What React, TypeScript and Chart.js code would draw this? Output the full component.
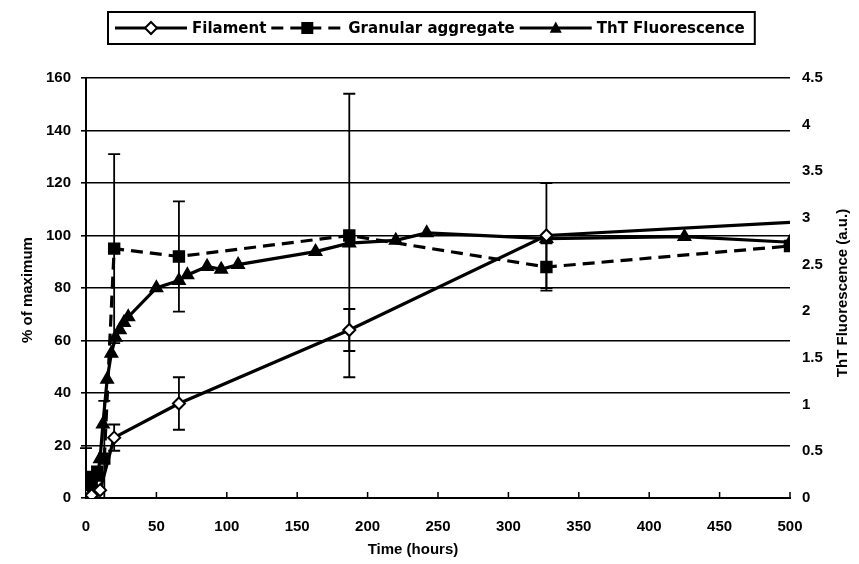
import React, { useEffect, useRef } from "react";
import { Chart, registerables } from "chart.js";

Chart.register(...registerables);

// ---- data ----
const filamentTime = [0, 4, 10, 20, 66, 187, 327, 500];
const filamentValue = [1, 1, 3, 23, 36, 64, 100, 105];
const filamentError = [0, 0, 0, 5, 10, 8, 20, 0];

const granularTime = [0, 4, 8, 13, 20, 66, 187, 327, 500];
const granularValue = [8, 5, 10, 15, 95, 92, 100, 88, 96];
const granularError = [11, 0, 0, 22, 36, 21, 54, 9, 0];

const thtTime = [0, 2, 4, 6, 8, 10, 12, 15, 18, 21, 24, 27, 30, 50, 66, 72, 86, 96, 108, 163, 187, 220, 242, 327, 425, 500];
const thtValue = [0, 0.03, 0.06, 0.11, 0.22, 0.42, 0.79, 1.27, 1.55, 1.72, 1.8, 1.88, 1.94, 2.25, 2.33, 2.39, 2.48, 2.45, 2.5, 2.64, 2.73, 2.76, 2.84, 2.78, 2.8, 2.74];

const seriesLabels = ["Filament", "Granular aggregate", "ThT Fluorescence"];
const leftTicks = [0, 20, 40, 60, 80, 100, 120, 140, 160];
const rightTicks = ["0", "0.5", "1", "1.5", "2", "2.5", "3", "3.5", "4", "4.5"];
const xTicks = [0, 50, 100, 150, 200, 250, 300, 350, 400, 450, 500];
const xTitle = "Time (hours)";
const leftTitle = "% of maximum";
const rightTitle = "ThT Fluorescence (a.u.)";

const FONT = "'Liberation Sans', Arial, sans-serif";
const LEGEND_FONT = "'DejaVu Sans', 'Liberation Sans', sans-serif";

const toPoints = (xs: number[], ys: number[]) => xs.map((x, i) => ({ x, y: ys[i] }));

function drawMarker(ctx: CanvasRenderingContext2D, kind: string, x: number, y: number, r: number) {
  ctx.save();
  ctx.beginPath();
  if (kind === "diamond") {
    ctx.moveTo(x, y - r);
    ctx.lineTo(x + r, y);
    ctx.lineTo(x, y + r);
    ctx.lineTo(x - r, y);
    ctx.closePath();
    ctx.fillStyle = "#fff";
    ctx.fill();
    ctx.lineWidth = 2;
    ctx.strokeStyle = "#000";
    ctx.stroke();
  } else if (kind === "square") {
    ctx.rect(x - r, y - r, 2 * r, 2 * r);
    ctx.fillStyle = "#000";
    ctx.fill();
  } else {
    ctx.moveTo(x, y - r * 1.1);
    ctx.lineTo(x + r, y + r * 0.8);
    ctx.lineTo(x - r, y + r * 0.8);
    ctx.closePath();
    ctx.fillStyle = "#000";
    ctx.fill();
  }
  ctx.restore();
}

const errorBarPlugin = {
  id: "errorBars",
  beforeDatasetsDraw(chart: any) {
    const ctx = chart.ctx;
    ctx.save();
    ctx.strokeStyle = "#000";
    ctx.lineWidth = 1.8;
    chart.data.datasets.forEach((ds: any, i: number) => {
      if (!ds.errors) return;
      const meta = chart.getDatasetMeta(i);
      const ys = chart.scales[ds.yAxisID];
      meta.data.forEach((pt: any, j: number) => {
        const e = ds.errors[j];
        if (!e) return;
        const v = ds.data[j].y;
        const top = ys.getPixelForValue(v + e);
        const bot = ys.getPixelForValue(Math.max(v - e, 0));
        const x = pt.x;
        ctx.beginPath();
        ctx.moveTo(x, top);
        ctx.lineTo(x, bot);
        ctx.moveTo(x - 6, top);
        ctx.lineTo(x + 6, top);
        if (v - e > 0) {
          ctx.moveTo(x - 6, bot);
          ctx.lineTo(x + 6, bot);
        }
        ctx.stroke();
      });
    });
    ctx.restore();
  },
};

const decorPlugin = {
  id: "decor",
  afterDraw(chart: any) {
    const ctx = chart.ctx;
    const area = chart.chartArea;
    const xs = chart.scales.x;
    ctx.save();
    // inward ticks on x axis
    ctx.strokeStyle = "#000";
    ctx.lineWidth = 1.5;
    xTicks.forEach((t) => {
      const px = xs.getPixelForValue(t);
      ctx.beginPath();
      ctx.moveTo(px, area.bottom);
      ctx.lineTo(px, area.bottom - 6);
      ctx.stroke();
    });

    // titles
    ctx.fillStyle = "#000";
    ctx.font = `bold 15px ${FONT}`;
    ctx.textAlign = "center";
    ctx.textBaseline = "middle";
    ctx.fillText(xTitle, 413, 550);
    ctx.save();
    ctx.translate(28, 290);
    ctx.rotate(-Math.PI / 2);
    ctx.fillText(leftTitle, 0, 0);
    ctx.restore();
    ctx.save();
    ctx.translate(843, 293);
    ctx.rotate(-Math.PI / 2);
    ctx.fillText(rightTitle, 0, 0);
    ctx.restore();

    // legend
    const kinds = ["diamond", "square", "triangle"];
    const dashes = [[], [12, 7], []];
    ctx.font = `bold 15px ${LEGEND_FONT}`;
    const lineLen = 72;
    const gap = 5;
    const padL = 7;
    const padR = 10;
    let total = padL + padR;
    const widths = seriesLabels.map((s) => ctx.measureText(s).width);
    widths.forEach((w, i) => {
      total += lineLen + gap + w + (i < widths.length - 1 ? gap : 0);
    });
    const cx = 431;
    const boxL = Math.round(cx - total / 2);
    const boxT = 12;
    const boxH = 32;
    ctx.lineWidth = 2;
    ctx.strokeStyle = "#000";
    ctx.strokeRect(boxL, boxT, total, boxH);
    const midY = boxT + boxH / 2;
    let x = boxL + padL;
    ctx.textAlign = "left";
    seriesLabels.forEach((s, i) => {
      ctx.save();
      ctx.lineWidth = 3;
      ctx.setLineDash(dashes[i]);
      ctx.beginPath();
      ctx.moveTo(x, midY);
      ctx.lineTo(x + lineLen, midY);
      ctx.stroke();
      ctx.restore();
      drawMarker(ctx, kinds[i], x + lineLen / 2, midY, 6);
      x += lineLen + gap;
      ctx.fillText(s, x, midY + 1);
      x += widths[i] + gap;
    });
    ctx.restore();
  },
};

export default function App() {
  const ref = useRef<HTMLCanvasElement | null>(null);

  useEffect(() => {
    document.body.style.margin = "0";
    const canvas = ref.current!;
    const tickFont = { family: FONT, size: 15, weight: "bold" as const };
    const lastFil = filamentTime.length - 1;
    const chart = new Chart(canvas, {
      type: "line",
      data: {
        datasets: [
          {
            label: seriesLabels[0],
            data: toPoints(filamentTime, filamentValue),
            yAxisID: "y",
            borderColor: "#000",
            borderWidth: 3.2,
            pointStyle: "rectRot",
            pointRadius: (c: any) => (c.dataIndex === lastFil ? 0 : 6),
            pointBackgroundColor: "#fff",
            pointBorderColor: "#000",
            pointBorderWidth: 2,
            errors: filamentError,
          } as any,
          {
            label: seriesLabels[1],
            data: toPoints(granularTime, granularValue),
            yAxisID: "y",
            borderColor: "#000",
            borderWidth: 3.2,
            borderDash: [12, 7],
            pointStyle: "rect",
            pointRadius: 6.5,
            pointBackgroundColor: "#000",
            pointBorderColor: "#000",
            errors: granularError,
          } as any,
          {
            label: seriesLabels[2],
            data: toPoints(thtTime, thtValue),
            yAxisID: "y2",
            borderColor: "#000",
            borderWidth: 3.2,
            pointStyle: "triangle",
            pointRadius: 5.5,
            pointBackgroundColor: "#000",
            pointBorderColor: "#000",
          } as any,
        ],
      },
      options: {
        responsive: false,
        animation: false,
        events: [],
        layout: { padding: { top: 78, left: 0, right: 0, bottom: 0 } },
        plugins: { legend: { display: false }, tooltip: { enabled: false }, title: { display: false } },
        scales: {
          x: {
            type: "linear",
            min: 0,
            max: 500,
            afterBuildTicks: (s: any) => {
              s.ticks = xTicks.map((v) => ({ value: v }));
            },
            ticks: { font: tickFont, color: "#000", padding: 12, maxRotation: 0 },
            grid: { display: false },
            border: { display: true, color: "#000", width: 2 },
            afterFit: (s: any) => {
              s.height = 66;
            },
          },
          y: {
            type: "linear",
            position: "left",
            min: 0,
            max: 160,
            afterBuildTicks: (s: any) => {
              s.ticks = leftTicks.map((v) => ({ value: v }));
            },
            ticks: { font: tickFont, color: "#000", padding: 10 },
            grid: { color: "#000", lineWidth: 1.6, tickLength: 5, drawTicks: true },
            border: { display: true, color: "#000", width: 2 },
            afterFit: (s: any) => {
              s.width = 86;
            },
          },
          y2: {
            type: "linear",
            position: "right",
            min: 0,
            max: 4.5,
            afterBuildTicks: (s: any) => {
              s.ticks = rightTicks.map((v) => ({ value: parseFloat(v) }));
            },
            ticks: {
              font: tickFont,
              color: "#000",
              padding: 4,
              callback: (_v: any, i: number) => rightTicks[i],
            },
            grid: { display: false },
            border: { display: false },
            afterFit: (s: any) => {
              s.width = 69;
            },
          },
        },
      },
      plugins: [errorBarPlugin, decorPlugin],
    });
    return () => chart.destroy();
  }, []);

  return <canvas ref={ref} width={859} height={564} style={{ display: "block" }} />;
}
